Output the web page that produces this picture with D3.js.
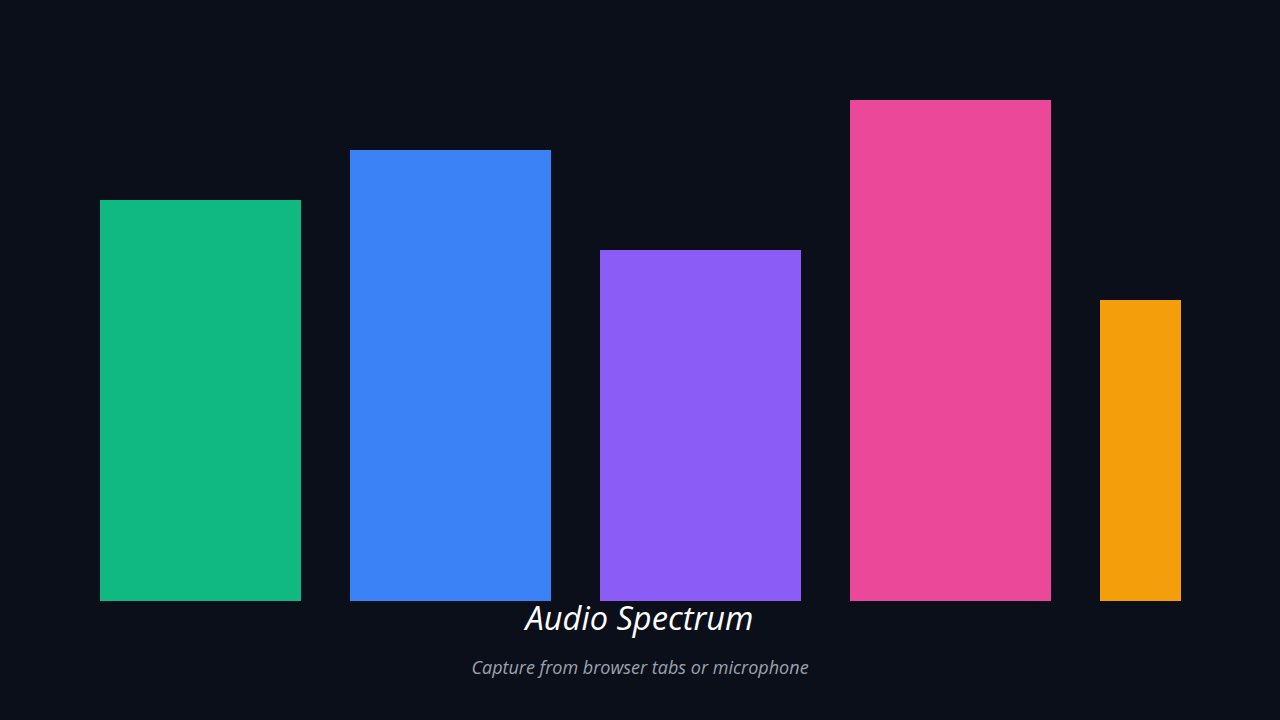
<!DOCTYPE html>
<html>
<head>
<meta charset="utf-8">
<script src="https://cdn.jsdelivr.net/npm/d3@7"></script>
<style>
  html, body { margin: 0; padding: 0; background: #0b0f19; overflow: hidden; }
  svg { display: block; }
</style>
</head>
<body>
<svg id="chart" width="1280" height="720"></svg>
<script>
const categories = ["Band 1", "Band 2", "Band 3", "Band 4", "Band 5"];
const levels = [80, 90, 70, 100, 60];
const colors = ["#10b981", "#3b82f6", "#8b5cf6", "#ec4899", "#f59e0b"];
const titleText = "Audio Spectrum";
const subtitleText = "Capture from browser tabs or microphone";

const svg = d3.select("#chart");
svg.append("rect").attr("width", 1280).attr("height", 720).attr("fill", "#0b0f19");

const x = d3.scaleBand()
  .domain(categories)
  .range([75.5, 1325.5])
  .paddingInner(0.196)
  .paddingOuter(0.098);

const y = d3.scaleLinear().domain([0, 100]).range([601, 100]);

svg.append("defs").append("clipPath").attr("id", "clip")
  .append("rect").attr("x", 0).attr("y", 0).attr("width", 1181).attr("height", 720);

svg.append("g").attr("clip-path", "url(#clip)")
  .attr("shape-rendering", "crispEdges")
  .selectAll("rect")
  .data(levels)
  .join("rect")
  .attr("x", (d, i) => x(categories[i]))
  .attr("y", d => Math.round(y(d)))
  .attr("width", x.bandwidth())
  .attr("height", d => y(0) - Math.round(y(d)))
  .attr("fill", (d, i) => colors[i]);

svg.append("text")
  .attr("x", 639.5).attr("y", 630)
  .attr("text-anchor", "middle")
  .attr("font-family", "'Open Sans', sans-serif")
  .attr("font-style", "italic")
  .attr("font-size", 32.6)
  .attr("fill", "#ffffff")
  .text(titleText);

svg.append("text")
  .attr("x", 640).attr("y", 674)
  .attr("text-anchor", "middle")
  .attr("font-family", "'Open Sans', sans-serif")
  .attr("font-style", "italic")
  .attr("font-size", 18)
  .attr("fill", "#9ca3af")
  .text(subtitleText);
</script>
</body>
</html>
